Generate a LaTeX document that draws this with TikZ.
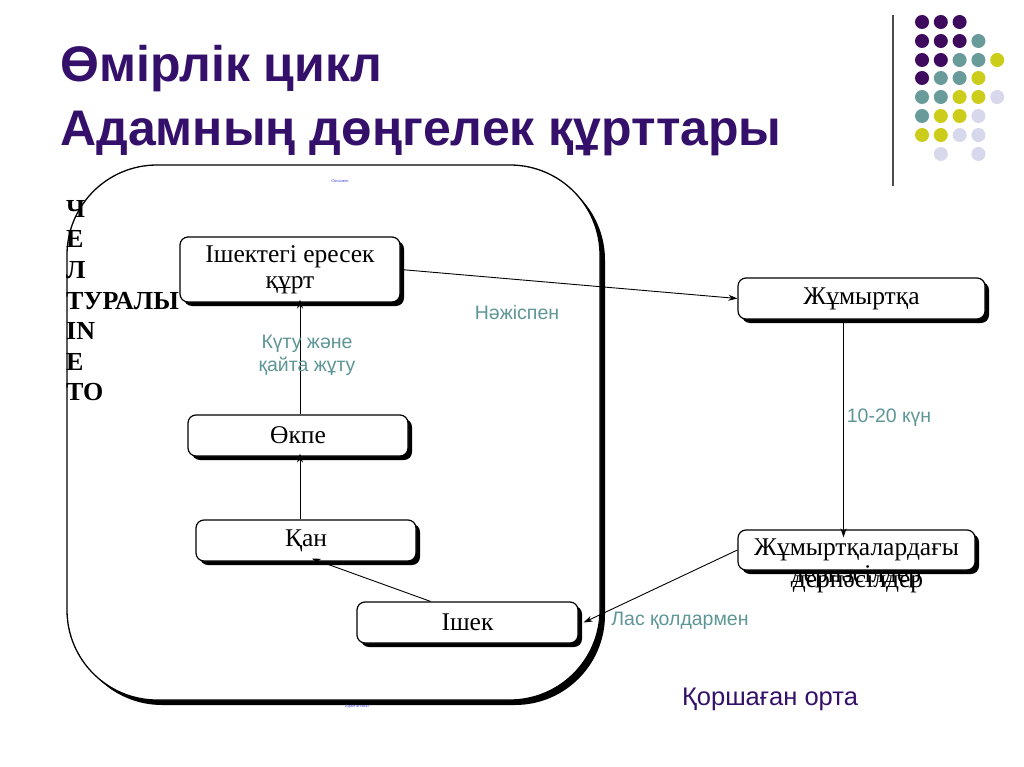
\documentclass[tikz,border=0pt]{standalone}
\usepackage{fontspec}
\setmainfont{Liberation Serif}
\newfontfamily\sansf{Liberation Sans}
\usetikzlibrary{shadows,arrows.meta}
\definecolor{ttl}{HTML}{34106A}
\definecolor{dpurple}{HTML}{3D0A5E}
\definecolor{dteal}{HTML}{6A9B9B}
\definecolor{dyellow}{HTML}{CCCC1A}
\definecolor{dlav}{HTML}{D8D8EC}
\definecolor{lbl}{HTML}{5E9696}
\definecolor{tiny}{HTML}{4A4AE0}
\tikzset{
  stagebox/.style={draw=black, line width=1.2pt, rounded corners=8pt, fill=white,
    drop shadow={shadow xshift=4pt, shadow yshift=-4pt, opacity=1, fill=black},
    font=\fontsize{25.5}{26}\selectfont, inner sep=0pt, align=center},
  arr/.style={-{Stealth[length=9pt,width=6pt]}, line width=0.9pt},
  lab/.style={font=\sansf\fontsize{19.5}{23}\selectfont, text=lbl, align=center},
  dot/.style={circle, minimum size=14pt, inner sep=0pt},
}
\begin{document}
\begin{tikzpicture}[x=1pt,y=-1pt]
\useasboundingbox (0,0) rectangle (1024,767);
% title
\node[anchor=base west, font=\sansf\bfseries\fontsize{50}{54}\selectfont, text=ttl, inner sep=0] (t1) at (60,82) {Өмірлік цикл};
\node[anchor=base west, font=\sansf\bfseries\fontsize{50}{54}\selectfont, text=ttl, inner sep=0] (t2) at (60,146) {Адамның дөңгелек құрттары};
% decoration
\draw[line width=1.5pt, color=black!70] (893,15) -- (893,186);
\foreach \r/\list in {22/{1/dpurple,2/dpurple,3/dpurple},
                      41/{1/dpurple,2/dpurple,3/dpurple,4/dteal},
                      60/{1/dpurple,2/dpurple,3/dteal,4/dteal,5/dyellow},
                      78/{1/dpurple,2/dteal,3/dteal,4/dyellow},
                      97/{1/dteal,2/dteal,3/dyellow,4/dyellow,5/dlav},
                      116/{1/dteal,2/dyellow,3/dyellow,4/dlav},
                      135/{1/dyellow,2/dyellow,3/dlav,4/dlav},
                      154/{2/dlav,4/dlav}}{
  \foreach \c/\col in \list {
    \node[dot, fill=\col] (d-\r-\c) at ({922+18.8*(\c-1)},\r) {};
  }
}
% big rounded frame
\draw[line width=1.3pt, fill=white, rounded corners=90pt,
  drop shadow={shadow xshift=5pt, shadow yshift=-5pt, opacity=1, fill=black}]
  (67,165) rectangle (600,700);
\node[font=\sansf\fontsize{4}{5}\selectfont, text=tiny] (tinytop) at (340,181) {Сонымен};
\node[font=\sansf\fontsize{4}{5}\selectfont, text=tiny] (tinybot) at (357,707) {Адам ағзасы};
% vertical text
\node[anchor=north west, align=left, inner sep=0, font=\bfseries\fontsize{26}{30.6}\selectfont] (vt) at (66,200)
  {Ч\\Е\\Л\\ТУРАЛЫ\\IN\\Е\\ТО};
% boxes
\node[stagebox, minimum width=220pt, minimum height=65pt] (b1) at (290,269.5) {Ішектегі ересек\\құрт};
\node[stagebox, minimum width=220pt, minimum height=41pt] (okpe) at (298,435.5) {Өкпе};
\node[stagebox, minimum width=220pt, minimum height=41pt] (kan) at (306,540.5) {Қан};
\node[stagebox, minimum width=221pt, minimum height=41pt] (ishek) at (467.5,622.5) {Ішек};
\node[stagebox, minimum width=247pt, minimum height=41pt] (egg) at (861.5,298.5) {Жұмыртқа};
\node[stagebox, minimum width=237pt, minimum height=40pt] (larv) at (856.5,550) {Жұмыртқалардағы};
\node[font=\fontsize{25.5}{26}\selectfont, inner sep=0] (lv1) at (856,577) {дернәсілдер};
\node[font=\fontsize{25.5}{26}\selectfont, inner sep=0] (lv2) at (858,582) {дернәсілдер};
% connectors
\draw[arr] (b1.east) -- (egg.west);
\draw[arr] ([xshift=-18pt]egg.south) -- ([xshift=-18pt,yshift=-8pt]egg.south |- larv.north);
\draw[arr] (larv.west) -- ([xshift=5pt]ishek.east);
\draw[arr] ([xshift=-37pt]ishek.north) -- ([xshift=6pt,yshift=3pt]kan.south);
\draw[arr] ([xshift=-6pt]kan.north) -- ([xshift=-6pt,yshift=3pt]kan.north |- okpe.south);
\draw[arr] ([xshift=2pt]okpe.north) -- ([xshift=2pt,yshift=3pt]okpe.north |- b1.south);
% labels
\node[lab] (l1) at (517,313) {Нәжіспен};
\node[lab] (l2) at (889,418) {10-20 күн};
\node[lab] (l3) at (680,621) {Лас қолдармен};
\node[lab] (l4) at (307,355) {Күту және\\қайта жұту};
\node[font=\sansf\fontsize{25.5}{30}\selectfont, text=ttl] (env) at (770,699) {Қоршаған орта};
\end{tikzpicture}
\end{document}
